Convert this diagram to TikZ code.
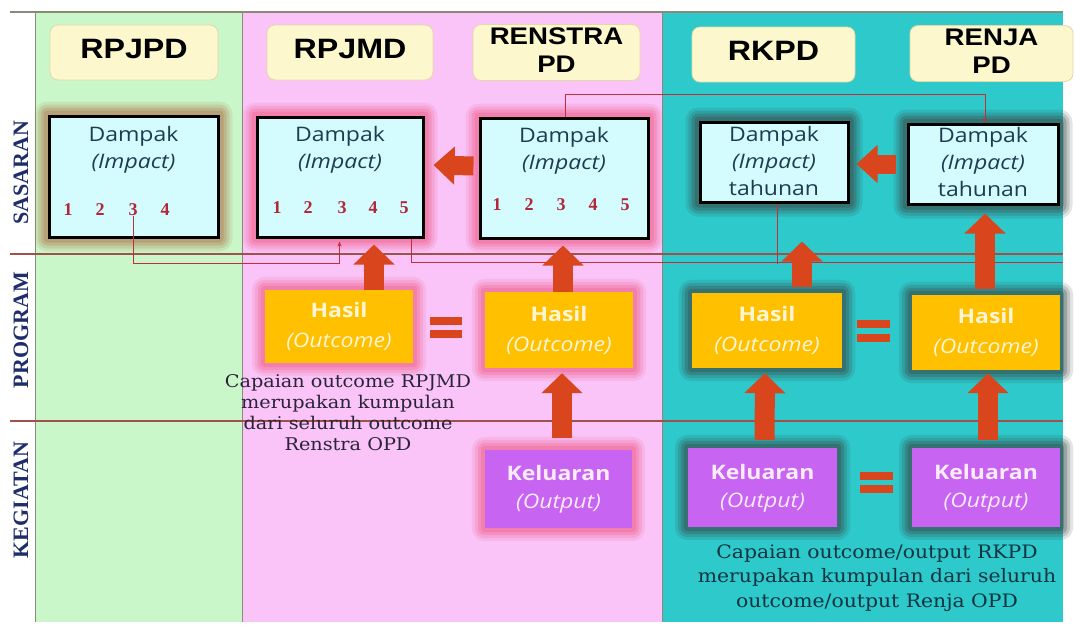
\documentclass[tikz,border=0pt]{standalone}
\usepackage{fontspec}
\usepackage{graphicx}
\usetikzlibrary{calc,arrows.meta}
\setmainfont{DejaVu Serif}
\newfontfamily\hdfont{Liberation Sans}
\newfontfamily\bxfont{Open Sans}
\newfontfamily\capfont{DejaVu Serif}
\newfontfamily\numfont{Liberation Serif}
\definecolor{greenc}{HTML}{C9F7C9}
\definecolor{pinkc}{HTML}{FAC4F8}
\definecolor{tealc}{HTML}{2DC9CB}
\definecolor{hdrfill}{HTML}{FCF7CC}
\definecolor{hdrborder}{HTML}{E2D8A8}
\definecolor{dfill}{HTML}{D4FBFD}
\definecolor{hfill}{HTML}{FFC000}
\definecolor{kfill}{HTML}{C864F2}
\definecolor{arrowc}{HTML}{D9461E}
\definecolor{numc}{HTML}{B02838}
\definecolor{dtextc}{HTML}{1E3C50}
\definecolor{cap1c}{HTML}{2A2438}
\definecolor{cap2c}{HTML}{0F3340}
\definecolor{lblc}{HTML}{1F2E6B}
\definecolor{gridc}{HTML}{8A8A78}
\definecolor{gridr}{HTML}{A0524A}
\definecolor{thinc}{HTML}{C0303A}
\definecolor{brownglow}{HTML}{B07850}
\definecolor{pinkglow}{HTML}{F0608C}
\definecolor{greyglow}{HTML}{3A4848}
\definecolor{htext}{HTML}{FFF5D5}
\definecolor{ktext}{HTML}{FDEBFF}
\pgfdeclarelayer{bg}
\pgfdeclarelayer{glow}
\pgfsetlayers{bg,glow,main}
\newcommand\sx[2][1.15]{\scalebox{#1}[1]{\begin{tabular}{@{}c@{}}#2\end{tabular}}}
\newcommand\glow[2]{\begin{pgfonlayer}{glow}\foreach \s/\o in {13/0.14,10/0.2,7/0.27,4/0.35}{\fill[#2,opacity=\o,rounded corners=\s pt] ($(#1.south west)+(-\s,\s)$) rectangle ($(#1.north east)+(\s,-\s)$);}\end{pgfonlayer}}
\tikzset{
  hdr/.style={draw=hdrborder, line width=0.8pt, fill=hdrfill, rounded corners=8pt, inner sep=0pt, text=black},
  hdrone/.style={hdr, font=\hdfont\bfseries\fontsize{28}{30}\selectfont},
  hdrtwo/.style={hdr, font=\hdfont\bfseries\fontsize{24}{28}\selectfont},
  dbox/.style={draw=black, line width=3pt, fill=dfill, inner sep=0pt},
  dtext/.style={inner sep=0pt, text=dtextc, font=\bxfont\fontsize{20}{27}\selectfont},
  numst/.style={inner sep=0pt, text=numc, font=\numfont\bfseries\fontsize{18}{18}\selectfont},
  hbox/.style={fill=hfill, inner sep=0pt, text=htext, font=\bxfont\fontsize{20}{30}\selectfont},
  kbox/.style={fill=kfill, inner sep=0pt, text=ktext, font=\bxfont\fontsize{20}{28}\selectfont},
  barrow/.style={draw=arrowc, line width=20pt, -{Triangle[width=40pt,length=20pt]}},
  larrow/.style={draw=arrowc, line width=19pt, -{Triangle[width=37pt,length=21pt]}},
  thinl/.style={draw=thinc, line width=1pt},
  eqs/.style={minimum width=32pt, minimum height=21pt, inner sep=0pt},
  lbl/.style={rotate=90, inner sep=0pt, text=lblc, font=\numfont\bfseries\fontsize{22}{22}\selectfont},
}
\begin{document}
\begin{tikzpicture}[x=1pt,y=-1pt]
\useasboundingbox (0,0) rectangle (1075,625);
\begin{pgfonlayer}{bg}
\fill[white] (0,0) rectangle (1075,625);
\fill[greenc] (35,12) rectangle (242,622);
\fill[pinkc] (242,12) rectangle (662,622);
\fill[tealc] (662,12) rectangle (1063,622);
\draw[gridc, line width=1.2pt] (10,12) -- (1063,12);
\draw[gridc, line width=1pt] (35,12) -- (35,622);
\draw[gridc, line width=1pt] (242,12) -- (242,622);
\draw[gridc, line width=1pt] (662,12) -- (662,622);
\draw[gridr, line width=1.2pt] (10,254) -- (1063,254);
\draw[gridr, line width=1.2pt] (10,421) -- (1063,421);
\end{pgfonlayer}

% row labels
\node[lbl] (lsas) at (21,173) {SASARAN};
\node[lbl] (lprog) at (21,330) {PROGRAM};
\node[lbl] (lkeg) at (21,500) {KEGIATAN};

% headers
\node[hdrone, minimum width=168pt, minimum height=55pt] (hb1) at (134,52.5) {\sx{RPJPD}};
\node[hdrone, minimum width=166pt, minimum height=55pt] (hb2) at (350,52.5) {\sx{RPJMD}};
\node[hdrtwo, minimum width=167pt, minimum height=55pt] (hb3) at (556.5,52.5) {\sx{RENSTRA\\PD}};
\node[hdrone, minimum width=163pt, minimum height=55pt] (hb4) at (773.5,54.5) {\sx{RKPD}};
\node[hdrtwo, minimum width=163pt, minimum height=53pt] (hb5) at (991.5,53.5) {\sx{RENJA\\PD}};

% dampak boxes
\node[dbox, minimum width=169pt, minimum height=121pt] (d1) at (133.5,176.5) {};
\node[dbox, minimum width=166pt, minimum height=120pt] (d2) at (340,177) {};
\node[dbox, minimum width=168pt, minimum height=120pt] (d3) at (564,178) {};
\node[dbox, minimum width=148pt, minimum height=80pt] (d4) at (774,162) {};
\node[dbox, minimum width=150pt, minimum height=80pt] (d5) at (983,164) {};
\node[dtext] (t1) at (133.5,150) {\sx{Dampak\\\textit{(Impact)}}};
\node[dtext] (t2) at (340,150) {\sx{Dampak\\\textit{(Impact)}}};
\node[dtext] (t3) at (564,150.5) {\sx{Dampak\\\textit{(Impact)}}};
\node[dtext] (t4) at (774,163) {\sx{Dampak\\\textit{(Impact)}\\tahunan}};
\node[dtext] (t5) at (983,164) {\sx{Dampak\\\textit{(Impact)}\\tahunan}};
\foreach \i/\x in {1/68,2/100,3/133,4/165} \node[numst] (n1-\i) at (\x,210) {\i};
\foreach \i/\x in {1/277,2/308,3/342,4/373,5/404} \node[numst] (n2-\i) at (\x,208) {\i};
\foreach \i/\x in {1/497,2/529,3/561,4/593,5/625} \node[numst] (n3-\i) at (\x,205) {\i};

% hasil boxes
\node[hbox, minimum width=148pt, minimum height=73pt] (h2) at (339,326.5) {\sx{\textbf{Hasil}\\\textit{(Outcome)}}};
\node[hbox, minimum width=148pt, minimum height=76pt] (h3) at (559,330) {\sx{\textbf{Hasil}\\\textit{(Outcome)}}};
\node[hbox, minimum width=150pt, minimum height=75pt] (h4) at (767,330.5) {\sx{\textbf{Hasil}\\\textit{(Outcome)}}};
\node[hbox, minimum width=148pt, minimum height=75pt] (h5) at (986,332.5) {\sx{\textbf{Hasil}\\\textit{(Outcome)}}};

% keluaran boxes
\node[kbox, minimum width=147pt, minimum height=78pt] (k3) at (558.5,489) {\sx{\textbf{Keluaran}\\\textit{(Output)}}};
\node[kbox, minimum width=149pt, minimum height=79pt] (k4) at (762.5,487.5) {\sx{\textbf{Keluaran}\\\textit{(Output)}}};
\node[kbox, minimum width=148pt, minimum height=79pt] (k5) at (986,487.5) {\sx{\textbf{Keluaran}\\\textit{(Output)}}};

% glows
\glow{d1}{brownglow}
\glow{d2}{pinkglow}
\glow{d3}{pinkglow}
\glow{d4}{greyglow}
\glow{d5}{greyglow}
\glow{h2}{pinkglow}
\glow{h3}{pinkglow}
\glow{k3}{pinkglow}
\glow{h4}{greyglow}
\glow{h5}{greyglow}
\glow{k4}{greyglow}
\glow{k5}{greyglow}

% captions
\node[inner sep=0pt, text=cap1c, font=\capfont\fontsize{17.5}{21}\selectfont] (cap1) at (348,415) {\sx[1.1]{Capaian outcome RPJMD\\merupakan kumpulan\\dari seluruh outcome\\Renstra OPD}};
\node[inner sep=0pt, text=cap2c, font=\capfont\fontsize{18.5}{24.5}\selectfont] (cap2) at (877,578) {\sx[1.1]{Capaian outcome/output RKPD\\merupakan kumpulan dari seluruh\\outcome/output Renja OPD}};

% thin connectors
\coordinate (rend) at (1063,262);
\draw[thinl, -{Stealth[length=5pt,width=4pt]}] (n1-3.south) |- ($(d2.south west)+(84,25)$) -- ($(d2.south west)+(84,3)$);
\draw[thinl] ($(d2.south east)+(-13,0)$) |- (rend);
\draw[thinl] ($(d4.south)+(3,0)$) -- ++(0,60);
\draw[thinl, -{Stealth[length=5pt,width=4pt]}] ($(d3.north)+(1,0)$) -- ++(0,-22) -| ($(d5.north)+(2,0)$);

% block arrows
\draw[larrow] ($(d3.west)+(-5,-12)$) -- ($(d2.east)+(9,-12)$);
\draw[larrow] ($(d5.west)+(-11,0)$) -- ($(d4.east)+(7,2)$);
\draw[barrow] ($(h2.north)+(35,0)$) -- ($(d2.south)+(34,6)$);
\draw[barrow] ($(h3.north)+(4,0)$) -- ($(d3.south)+(-1,6)$);
\draw[barrow] ($(h4.north)+(35,-6)$) -- ($(d4.south)+(28,38)$);
\draw[barrow] ($(h5.north)+(-1,-6)$) -- ($(d5.south)+(2,8)$);
\draw[barrow] ($(k3.north)+(3.5,-12)$) -- ($(h3.south)+(3,5)$);
\draw[barrow] ($(k4.north)+(2,-8)$) -- ($(h4.south)+(-2,5)$);
\draw[barrow] ($(k5.north)+(2,-8)$) -- ($(h5.south)+(2,3)$);

% equals signs
\node[eqs] (e1) at (446,327.5) {};
\node[eqs] (e2) at (873.5,331) {};
\node[eqs] (e3) at (876.5,482.5) {};
\foreach \e in {e1,e2,e3}{
  \fill[arrowc] (\e.north west) rectangle ($(\e.north east)+(0pt,-8pt)$);
  \fill[arrowc] (\e.south west) rectangle ($(\e.south east)+(0pt,8pt)$);
}
\end{tikzpicture}
\end{document}
